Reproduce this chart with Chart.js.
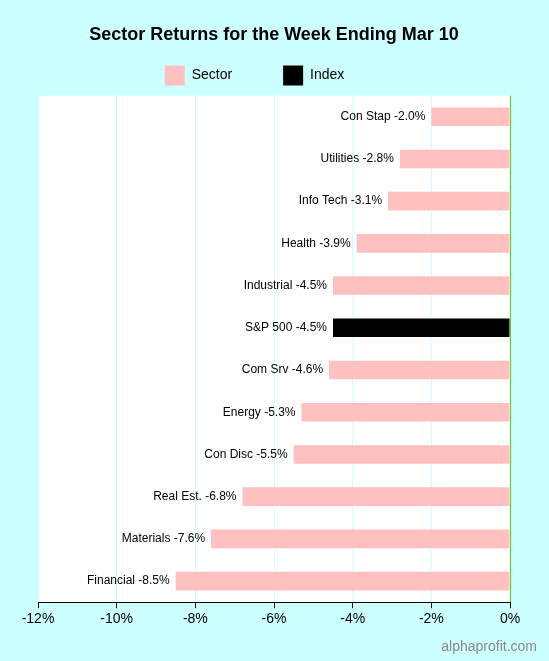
<!DOCTYPE html>
<html>
<head>
<script src="https://cdn.jsdelivr.net/npm/chart.js@4"></script>
<style>
  body { margin: 0; background: #ccffff; }
  #wrap { width: 549px; height: 661px; }
</style>
</head>
<body>
<div id="wrap"><canvas id="myChart" width="549" height="661"></canvas></div>
<script>
// Chart data
var categories = ["Con Stap", "Utilities", "Info Tech", "Health", "Industrial", "S&P 500",
  "Com Srv", "Energy", "Con Disc", "Real Est.", "Materials", "Financial"];
var returns = [-2.0, -2.8, -3.1, -3.9, -4.5, -4.5, -4.6, -5.3, -5.5, -6.8, -7.6, -8.5];
var indexName = "S&P 500";
var xTicks = [-12, -10, -8, -6, -4, -2, 0];

var sectorData = returns.map(function (v, i) { return categories[i] == indexName ? null : v; });
var indexData = returns.map(function (v, i) { return categories[i] == indexName ? v : null; });

// white plot area, labels beside bars, watermark
var extras = {
  id: 'extras',
  beforeDraw: function (chart) {
    var a = chart.chartArea, ctx = chart.ctx;
    ctx.save();
    ctx.fillStyle = '#ffffff';
    ctx.fillRect(a.left, a.top, a.right - a.left, a.bottom - a.top);
    ctx.restore();
  },
  afterDatasetsDraw: function (chart) {
    var ctx = chart.ctx, x = chart.scales.x, y = chart.scales.y, a = chart.chartArea;
    ctx.save();
    ctx.strokeStyle = '#66cc00';
    ctx.lineWidth = 1;
    ctx.beginPath();
    ctx.moveTo(x.getPixelForValue(0) + 0.5, a.top);
    ctx.lineTo(x.getPixelForValue(0) + 0.5, a.bottom);
    ctx.stroke();
    ctx.font = '12px "Liberation Sans", Arial';
    ctx.fillStyle = '#000';
    ctx.textAlign = 'right';
    ctx.textBaseline = 'middle';
    for (var i = 0; i < categories.length; i++) {
      ctx.fillText(categories[i] + ' ' + returns[i].toFixed(1) + '%',
        x.getPixelForValue(returns[i]) - 6, y.getPixelForValue(i));
    }
    ctx.font = '14px "Liberation Sans", Arial';
    ctx.fillStyle = '#888888';
    ctx.textBaseline = 'alphabetic';
    ctx.fillText('alphaprofit.com', 537, 651);
    ctx.restore();
  }
};

var ctx = document.getElementById('myChart').getContext('2d');
var myChart = new Chart(ctx, {
  type: 'bar',
  data: {
    labels: categories,
    datasets: [
      { label: 'Sector', data: sectorData, backgroundColor: '#ffc0c0', barPercentage: 0.44, categoryPercentage: 1 },
      { label: 'Index', data: indexData, backgroundColor: '#000000', barPercentage: 0.44, categoryPercentage: 1 }
    ]
  },
  options: {
    indexAxis: 'y',
    responsive: false,
    animation: false,
    layout: { padding: { left: 38, right: 39, top: 0, bottom: 30 } },
    plugins: {
      title: {
        display: true,
        text: 'Sector Returns for the Week Ending Mar 10',
        color: '#000',
        font: { family: '"Liberation Sans", Arial', size: 18, weight: 'bold' },
        padding: { top: 24, bottom: 8 }
      },
      legend: {
        labels: {
          color: '#000',
          boxWidth: 20,
          boxHeight: 20,
          padding: 12,
          font: { family: '"Liberation Sans", Arial', size: 14 },
          generateLabels: function (chart) {
            var items = Chart.defaults.plugins.legend.labels.generateLabels(chart);
            items.forEach(function (it) { it.text = it.text + '          '; });
            return items;
          }
        }
      },
      tooltip: { enabled: false }
    },
    scales: {
      x: {
        stacked: true,
        min: -12,
        max: 0,
        afterBuildTicks: function (axis) { axis.ticks = xTicks.map(function (v) { return { value: v }; }); },
        grid: { color: '#ccffff', drawTicks: true, tickLength: 6, tickColor: '#000' },
        border: { color: '#000' },
        ticks: {
          color: '#000',
          font: { family: '"Liberation Sans", Arial', size: 14 },
          callback: function (v) { return v + '%'; }
        }
      },
      y: { stacked: true, display: false }
    }
  },
  plugins: [extras]
});
</script>
</body>
</html>
